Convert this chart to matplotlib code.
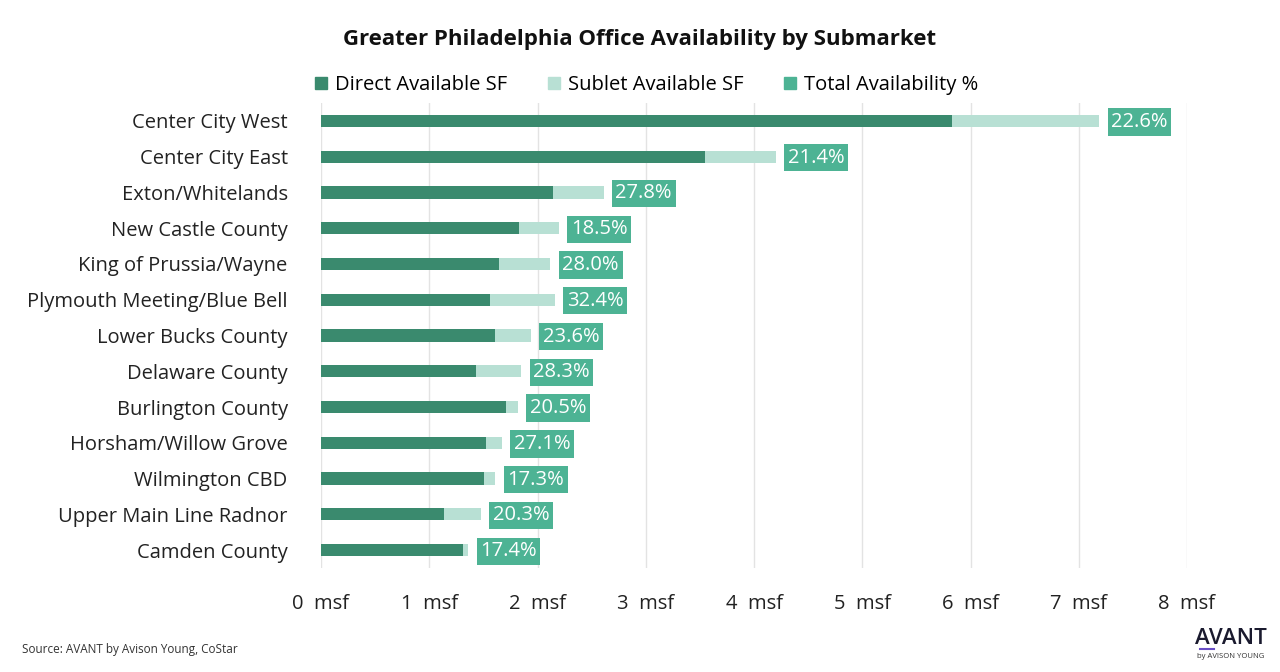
import matplotlib.pyplot as plt
from matplotlib.patches import Patch
from matplotlib.ticker import FuncFormatter

plt.rcParams['font.family'] = ['Open Sans', 'DejaVu Sans']

submarkets = ["Center City West", "Center City East", "Exton/Whitelands", "New Castle County",
              "King of Prussia/Wayne", "Plymouth Meeting/Blue Bell", "Lower Bucks County",
              "Delaware County", "Burlington County", "Horsham/Willow Grove", "Wilmington CBD",
              "Upper Main Line Radnor", "Camden County"]
direct = [5.83, 3.55, 2.14, 1.83, 1.64, 1.56, 1.61, 1.43, 1.71, 1.52, 1.51, 1.14, 1.31]
sublet = [1.36, 0.65, 0.47, 0.37, 0.48, 0.60, 0.33, 0.42, 0.11, 0.15, 0.10, 0.34, 0.05]
total_pct = [22.6, 21.4, 27.8, 18.5, 28.0, 32.4, 23.6, 28.3, 20.5, 27.1, 17.3, 20.3, 17.4]

c_direct = "#3a8a6e"
c_sublet = "#b8e0d4"
c_label = "#4db394"

fig = plt.figure(figsize=(12.8, 6.72), dpi=100)
ax = fig.add_axes([321 / 1280, 1 - 568 / 672, (1187 - 321) / 1280, (568 - 103) / 672])

y = list(range(len(submarkets)))
ax.barh(y, direct, height=0.34, color=c_direct, zorder=3)
ax.barh(y, sublet, left=direct, height=0.34, color=c_sublet, zorder=3)

for i in y:
    end = direct[i] + sublet[i]
    ax.text(end + 0.11, i + 0.03, f"{total_pct[i]:.1f}%", va="center", ha="left", fontsize=14.5,
            color="white", zorder=4,
            bbox=dict(boxstyle="square,pad=0.18", fc=c_label, ec="none"))

ax.set_xlim(0, 8)
ax.set_ylim(len(submarkets) - 0.5, -0.5)
ax.set_xticks(range(9))
ax.xaxis.set_major_formatter(FuncFormatter(lambda v, p: f"{int(v)}  msf"))
ax.set_yticks(y)
ax.set_yticklabels(submarkets)
ax.tick_params(axis="both", length=0, labelsize=14.5, colors="#222222")
ax.tick_params(axis="x", pad=19)
ax.tick_params(axis="y", pad=24)
ax.grid(axis="x", color="#e3e3e3", lw=1, zorder=0)
for s in ax.spines.values():
    s.set_visible(False)

fig.text(0.5, 1 - 40 / 672, "Greater Philadelphia Office Availability by Submarket",
         ha="center", va="center", fontsize=16, fontweight="bold", color="#111111")

handles = [Patch(color=c_direct), Patch(color=c_sublet), Patch(color=c_label)]
fig.legend(handles, ["Direct Available SF", "Sublet Available SF", "Total Availability %"],
           loc="center", bbox_to_anchor=(0.505, 1 - 85 / 672), ncol=3, frameon=False,
           fontsize=14.5, handlelength=0.6, handleheight=0.6, handletextpad=0.4,
           columnspacing=2.0)

fig.text(22 / 1280, 1 - 650 / 672, "Source: AVANT by Avison Young, CoStar",
         fontsize=8.5, va="center", color="#333333")
fig.text(1231 / 1280, 1 - 638 / 672, "AVANT", fontsize=16, fontweight="semibold",
         ha="center", va="center", color="#1a1a2e")
fig.text(1231 / 1280, 1 - 657 / 672, "by AVISON YOUNG", fontsize=5.5, ha="center",
         va="center", color="#333333")
fig.add_artist(plt.Line2D([1200 / 1280, 1214 / 1280], [1 - 649 / 672] * 2,
                          color="#6a4fc7", lw=1.5))

fig.savefig("out.png", dpi=100)
